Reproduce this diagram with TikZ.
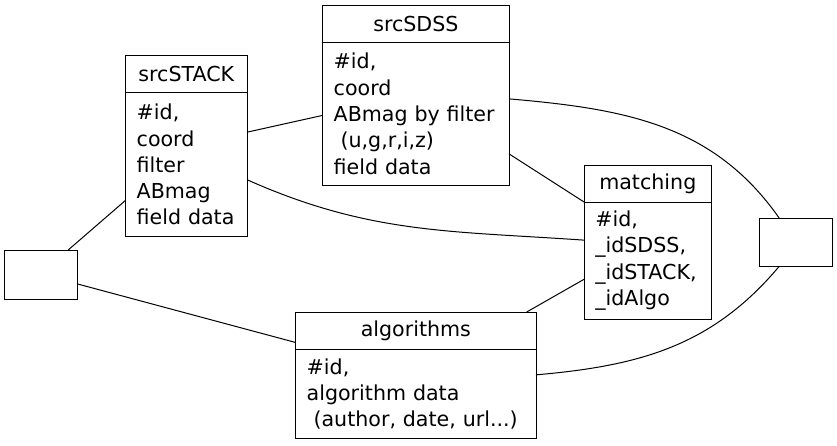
\documentclass[tikz,border=0pt]{standalone}
\usepackage{fontspec}
\setmainfont{DejaVu Sans}
\usetikzlibrary{positioning}

\tikzset{
    tablehead/.style={draw, line width=1pt, outer sep=0pt, inner sep=0pt, minimum height=37pt},
    tablebody/.style={draw, line width=1pt, outer sep=0pt, inner xsep=11pt, inner ysep=0pt, align=left},
    emptybox/.style={draw, line width=1pt, outer sep=0pt, minimum width=73pt, minimum height=48pt},
    link/.style={line width=1pt}
}

\begin{document}
\begin{tikzpicture}[x=1pt, y=-1pt, font=\fontsize{20.6}{26.3}\selectfont]
    \useasboundingbox (0,0) rectangle (837,445);

    % Tables
    \node[tablehead, minimum width=121.3pt] (stackhead) at (186.35,74) {srcSTACK};
    \node[tablebody, text width=99.3pt, minimum height=144.4pt, below=0pt of stackhead] (stackbody)
        {\#id,\\coord\\filter\\ABmag\\field data};

    \node[tablehead, minimum width=186.3pt] (sdsshead) at (415.85,23.5) {srcSDSS};
    \node[tablebody, text width=164.3pt, minimum height=143.7pt, below=0pt of sdsshead] (sdssbody)
        {\#id,\\coord\\ABmag by filter\\\ (u,g,r,i,z)\\field data};

    \node[tablehead, minimum width=127pt] (matchhead) at (647.8,183.65) {matching};
    \node[tablebody, text width=105pt, minimum height=117pt, below=0pt of matchhead] (matchbody)
        {\#id,\\\_idSDSS,\\\_idSTACK,\\\_idAlgo};

    \node[tablehead, minimum width=240.3pt] (algohead) at (415.85,330.5) {algorithms};
    \node[tablebody, text width=218.3pt, minimum height=89.7pt, below=0pt of algohead] (algobody)
        {\#id,\\algorithm data\\\ (author, date, url...)};

    % Empty boxes
    \node[emptybox, minimum height=49pt] (leftbox) at (41.2,274.5) {};
    \node[emptybox] (rightbox) at (795.8,242.2) {};

    % Links
    \draw[link] ([xshift=27pt]leftbox.north) -- ([yshift=-35.5pt]stackbody.west);
    \draw[link] ([yshift=-9.5pt]leftbox.east) -- ([yshift=-12pt]algohead.west);
    \draw[link] ([yshift=32.5pt]stackbody.east) -- ([yshift=-1.5pt]sdssbody.west);
    \draw[link] ([yshift=-15pt]stackbody.east) to[out=-24, in=176] ([yshift=20.5pt]matchbody.west);
    \draw[link] ([yshift=-40pt]sdssbody.east) -- (matchbody.north west);
    \draw[link] ([yshift=15pt]sdssbody.east) to[out=-5, in=125] ([xshift=-16.5pt]rightbox.north);
    \draw[link] ([xshift=-9.3pt]algohead.north east) -- ([yshift=-18.5pt]matchbody.west);
    \draw[link] ([yshift=19pt]algobody.east) to[out=5, in=-130] ([xshift=-16.5pt]rightbox.south);
\end{tikzpicture}
\end{document}
